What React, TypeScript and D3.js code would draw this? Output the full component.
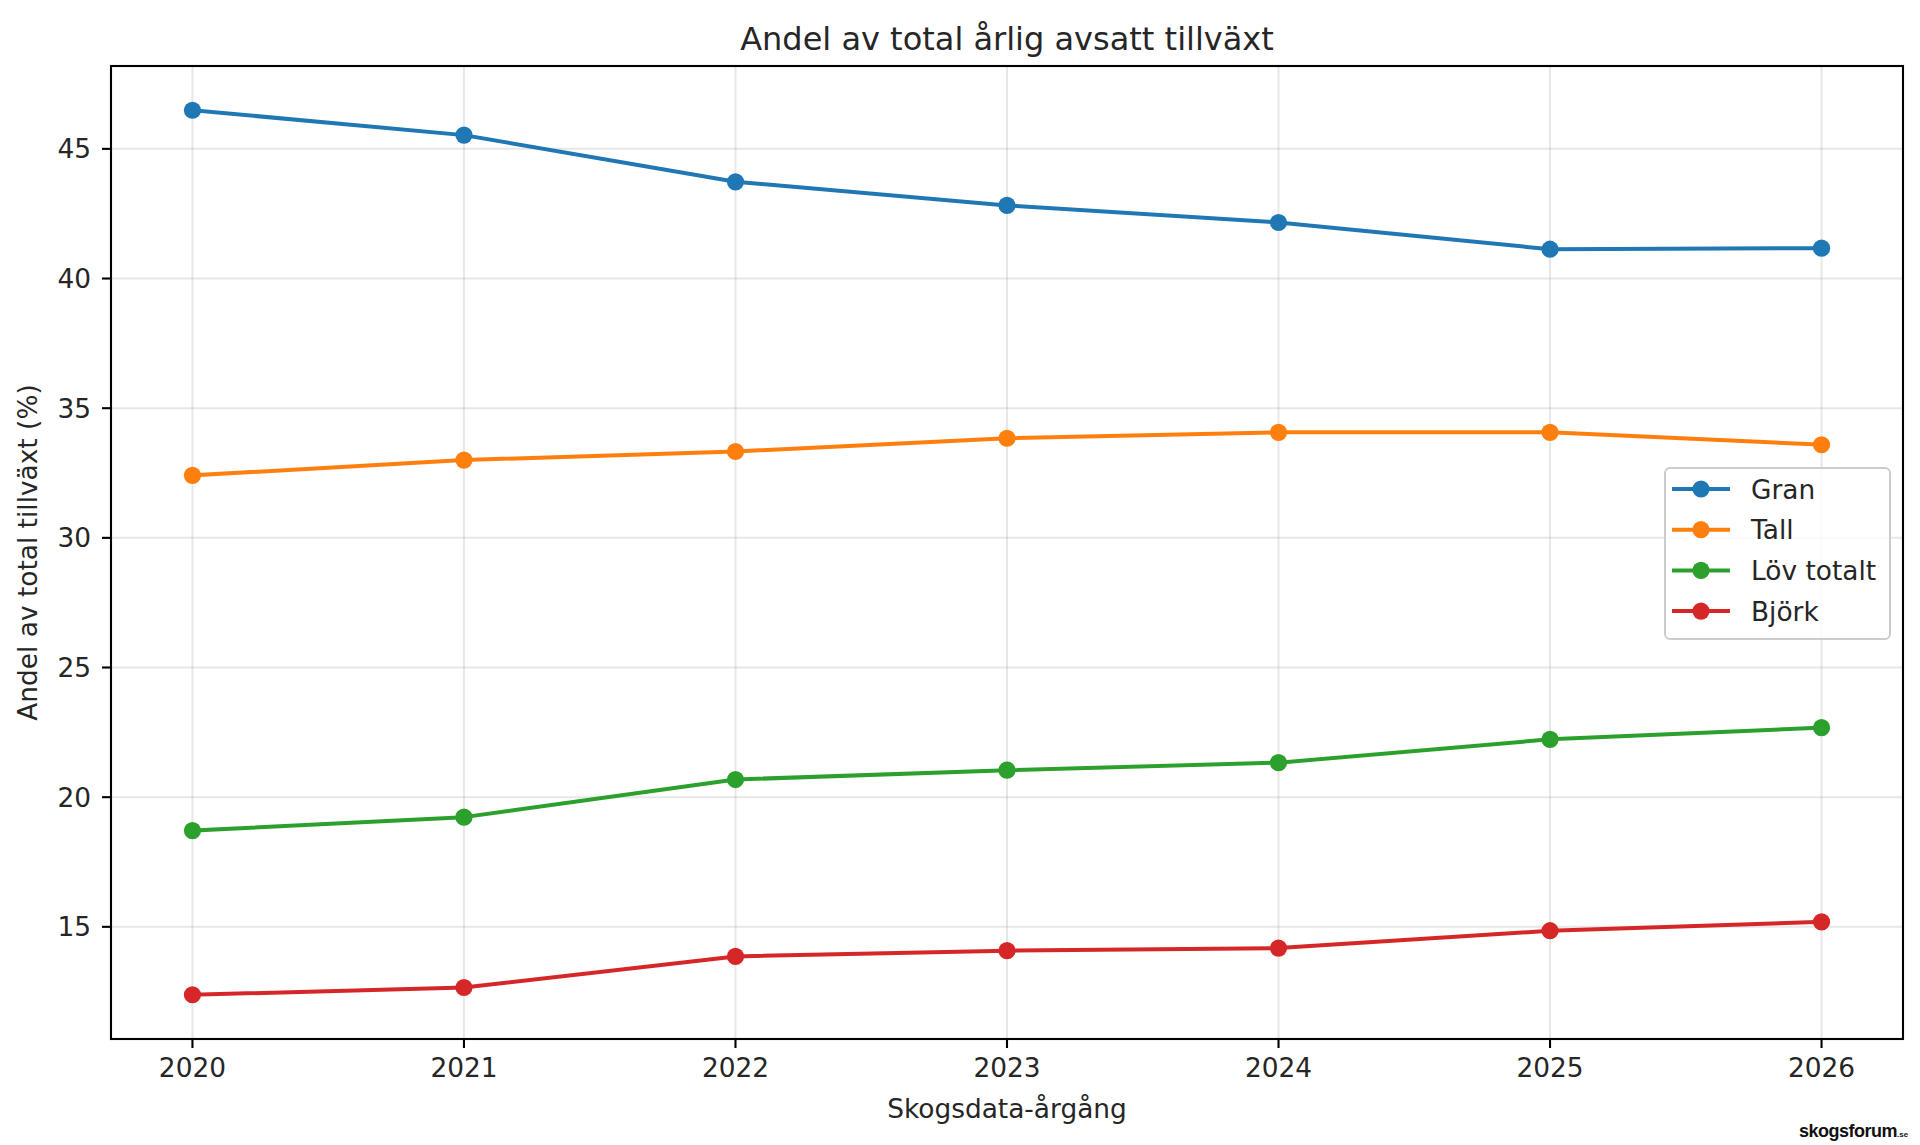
import * as d3 from "d3";

// values
const years = [2020, 2021, 2022, 2023, 2024, 2025, 2026];
const gran = [46.49, 45.53, 43.73, 42.82, 42.16, 41.13, 41.17];
const tall = [32.41, 33.0, 33.33, 33.84, 34.07, 34.07, 33.59];
const lovTotalt = [18.71, 19.23, 20.68, 21.04, 21.33, 22.23, 22.68];
const bjork = [12.38, 12.66, 13.86, 14.08, 14.18, 14.85, 15.19];

const seriesNames = ["Gran", "Tall", "Löv totalt", "Björk"];
const seriesColors = ["#1f77b4", "#ff7f0e", "#2ca02c", "#d62728"];
const yTicks = [15, 20, 25, 30, 35, 40, 45];

const W = 1920;
const H = 1145;
const FONT = "DejaVu Sans, Verdana, sans-serif";
const plot = { left: 111, right: 1903, top: 66, bottom: 1039 };
const MARKER_R = 8.6;

export default function App() {
  const allSeries = [gran, tall, lovTotalt, bjork];
  const allValues = allSeries.flat();
  const yMin = d3.min(allValues)!;
  const yMax = d3.max(allValues)!;
  const yPad = (yMax - yMin) * 0.05;
  const xPad = (years[years.length - 1] - years[0]) * 0.05;

  const x = d3
    .scaleLinear()
    .domain([years[0] - xPad, years[years.length - 1] + xPad])
    .range([plot.left, plot.right]);
  const y = d3
    .scaleLinear()
    .domain([yMin - yPad, yMax + yPad])
    .range([plot.bottom, plot.top]);

  const line = d3
    .line<number>()
    .x((_, i) => x(years[i]))
    .y((d) => y(d));

  // legend layout (loc = center right)
  const legend = { x: 1665, y: 468, w: 225, h: 171, row: 40.7 };

  return (
    <svg
      width={W}
      height={H}
      style={{ position: "absolute", left: 0, top: 0, background: "#fff" }}
      fontFamily={FONT}
    >
      <rect x={0} y={0} width={W} height={H} fill="#fff" />

      {/* grid */}
      <g stroke="#b0b0b0" strokeOpacity={0.3} strokeWidth={2}>
        {years.map((yr) => (
          <line key={"gx" + yr} x1={x(yr)} x2={x(yr)} y1={plot.top} y2={plot.bottom} />
        ))}
        {yTicks.map((t) => (
          <line key={"gy" + t} x1={plot.left} x2={plot.right} y1={y(t)} y2={y(t)} />
        ))}
      </g>

      {/* series */}
      {allSeries.map((vals, si) => (
        <g key={seriesNames[si]}>
          <path d={line(vals)!} fill="none" stroke={seriesColors[si]} strokeWidth={4} strokeLinejoin="round" strokeLinecap="square" />
          {vals.map((v, i) => (
            <circle key={i} cx={x(years[i])} cy={y(v)} r={MARKER_R} fill={seriesColors[si]} />
          ))}
        </g>
      ))}

      {/* spines */}
      <rect
        x={plot.left}
        y={plot.top}
        width={plot.right - plot.left}
        height={plot.bottom - plot.top}
        fill="none"
        stroke="#000"
        strokeWidth={2.1}
      />

      {/* x ticks */}
      <g>
        {years.map((yr) => (
          <g key={"xt" + yr}>
            <line x1={x(yr)} x2={x(yr)} y1={plot.bottom} y2={plot.bottom + 9} stroke="#000" strokeWidth={2.1} />
            <text x={x(yr)} y={plot.bottom + 38} textAnchor="middle" fontSize={26.4} fill="#262626">
              {yr}
            </text>
          </g>
        ))}
      </g>

      {/* y ticks */}
      <g>
        {yTicks.map((t) => (
          <g key={"yt" + t}>
            <line x1={plot.left - 9} x2={plot.left} y1={y(t)} y2={y(t)} stroke="#000" strokeWidth={2.1} />
            <text x={plot.left - 20} y={y(t)} dy="0.36em" textAnchor="end" fontSize={26.4} fill="#262626">
              {t}
            </text>
          </g>
        ))}
      </g>

      {/* title and axis labels */}
      <text x={(plot.left + plot.right) / 2} y={50} textAnchor="middle" fontSize={32} fill="#262626">
        Andel av total årlig avsatt tillväxt
      </text>
      <text x={(plot.left + plot.right) / 2} y={1118} textAnchor="middle" fontSize={26.4} fill="#262626">
        Skogsdata-årgång
      </text>
      <text
        transform={`translate(37,${(plot.top + plot.bottom) / 2}) rotate(-90)`}
        textAnchor="middle"
        fontSize={26.4}
        fill="#262626"
      >
        Andel av total tillväxt (%)
      </text>

      {/* legend */}
      <g>
        <rect
          x={legend.x}
          y={legend.y}
          width={legend.w}
          height={legend.h}
          rx={5}
          fill="#fff"
          fillOpacity={0.8}
          stroke="#cccccc"
          strokeWidth={2}
        />
        {seriesNames.map((name, i) => {
          const cy = legend.y + 21 + i * legend.row;
          return (
            <g key={"lg" + name}>
              <line x1={legend.x + 7} x2={legend.x + 65} y1={cy} y2={cy} stroke={seriesColors[i]} strokeWidth={4} />
              <circle cx={legend.x + 36} cy={cy} r={MARKER_R} fill={seriesColors[i]} />
              <text x={legend.x + 86} y={cy} dy="0.36em" fontSize={26.4} fill="#262626">
                {name}
              </text>
            </g>
          );
        })}
      </g>

      {/* watermark */}
      <text
        x={1799}
        y={1137}
        fontSize={18}
        fontWeight="bold"
        fill="#111"
        letterSpacing={-0.5}
        fontFamily="Liberation Sans, Arial, sans-serif"
      >
        skogsforum
        <tspan fontSize={8} letterSpacing={0}>.se</tspan>
      </text>
    </svg>
  );
}
